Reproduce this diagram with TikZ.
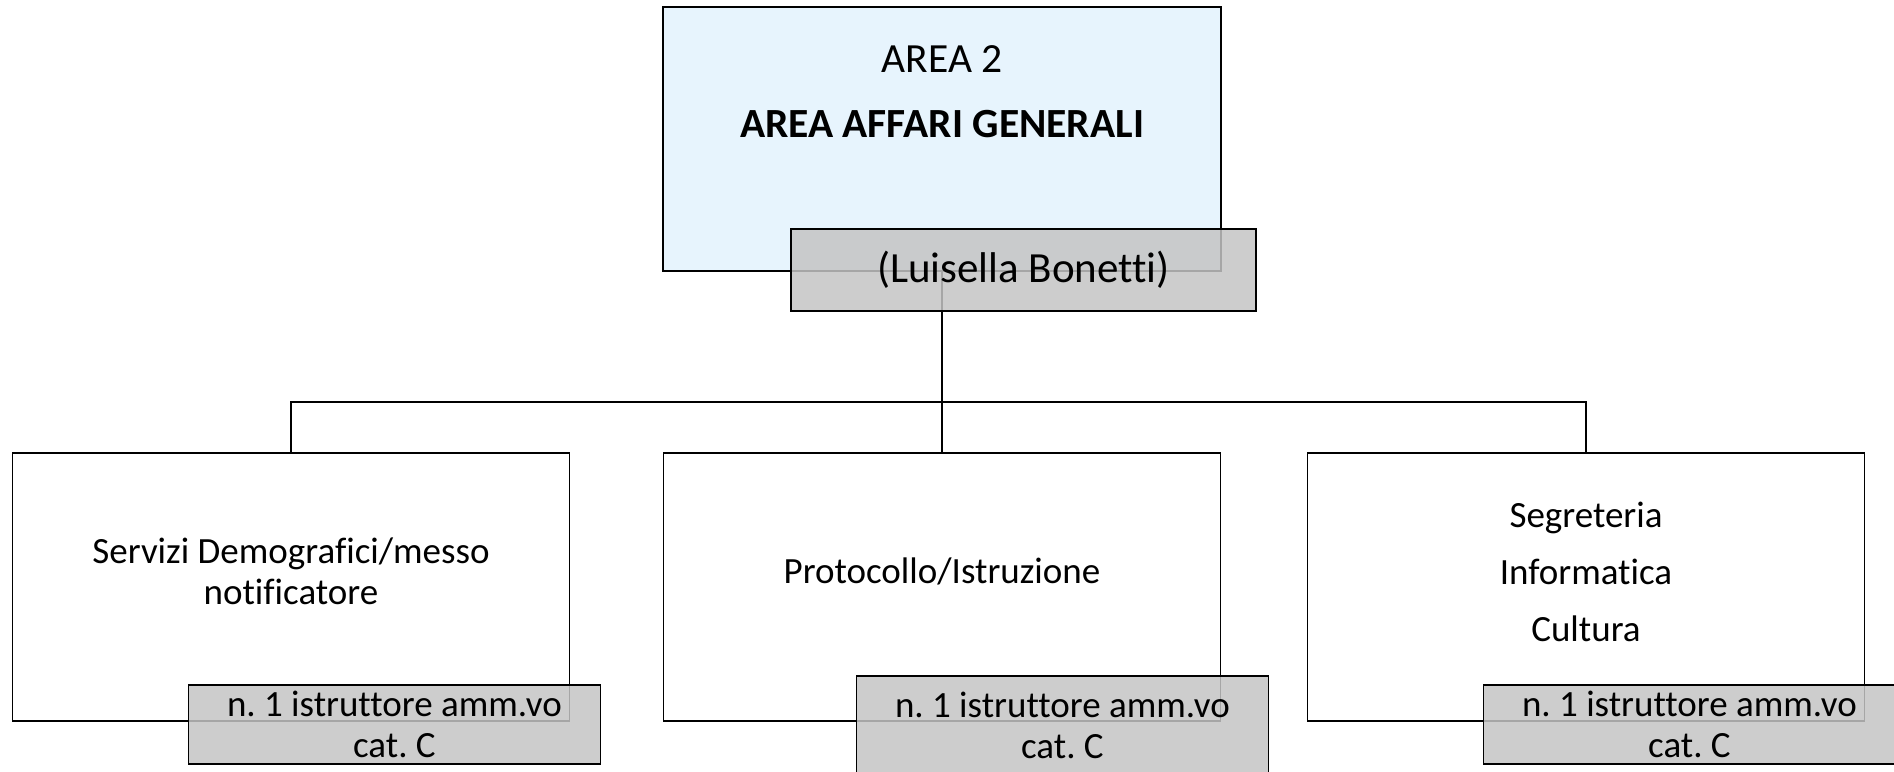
\documentclass[tikz,border=0pt]{standalone}
\usepackage{fontspec}
\setmainfont{Carlito}[Ligatures=NoCommon]
\usetikzlibrary{positioning}
\definecolor{areablue}{RGB}{231,244,253}
\definecolor{staffgray}{RGB}{196,196,196}
\newcommand{\boxfont}{\fontsize{37}{41}\selectfont}
\newcommand{\titlefont}{\fontsize{41.5}{49}\selectfont}
\tikzstyle{block} = [rectangle, draw, line width=1.8pt, inner sep=0pt,
    minimum width=557pt, minimum height=268pt]
\tikzstyle{staff} = [rectangle, draw, line width=1.8pt, fill=staffgray,
    fill opacity=0.85, text opacity=1, align=center, inner sep=0pt, minimum width=412pt]
\tikzstyle{conn} = [line width=1.8pt]
\frenchspacing

\begin{document}
\begin{tikzpicture}[x=1pt, y=-1pt, font=\boxfont]
  \useasboundingbox (0,0) rectangle (1894,771);

  \node [block, fill=areablue, minimum width=558pt, minimum height=264pt] (area) at (942,139) {};
  \node [align=center, yshift=47pt, font=\titlefont] (areatitle) at (area) {AREA 2\\[16pt]\textbf{AREA AFFARI GENERALI}};

  \node [block] (n1) at (291,587) {};
  \node [block, right of=n1, node distance=651pt] (n2) {};
  \node [block, right of=n2, node distance=644pt] (n3) {};

  \node [align=center, yshift=16pt] (t1) at (n1) {Servizi Demografici/messo\\notificatore};
  \node [yshift=16pt] (t2) at (n2) {Protocollo/Istruzione};
  \node [align=center, yshift=15pt, font=\fontsize{37}{57}\selectfont] (t3) at (n3) {Segreteria\\Informatica\\Cultura};

  \coordinate (bus) at (0,402);
  \draw [conn] (area.south) -- (n2.north);
  \draw [conn] (area.south |- bus) -| (n1.north);
  \draw [conn] (area.south |- bus) -| (n3.north);

  \node [staff, minimum width=465pt, minimum height=82pt, xshift=-198.5pt, yshift=2pt, font=\fontsize{43}{49}\selectfont] (boss) at (area.south east) {(Luisella Bonetti)};
  \node [staff, minimum height=79pt, xshift=-176pt, yshift=-2.5pt] (s1) at (n1.south east) {n. 1 istruttore amm.vo\\cat. C};
  \node [staff, minimum height=100pt, xshift=-159pt, yshift=-4pt] (s2) at (n2.south east) {n. 1 istruttore amm.vo\\cat. C};
  \node [staff, minimum height=79pt, xshift=-176pt, yshift=-2.5pt] (s3) at (n3.south east) {n. 1 istruttore amm.vo\\cat. C};
\end{tikzpicture}
\end{document}
